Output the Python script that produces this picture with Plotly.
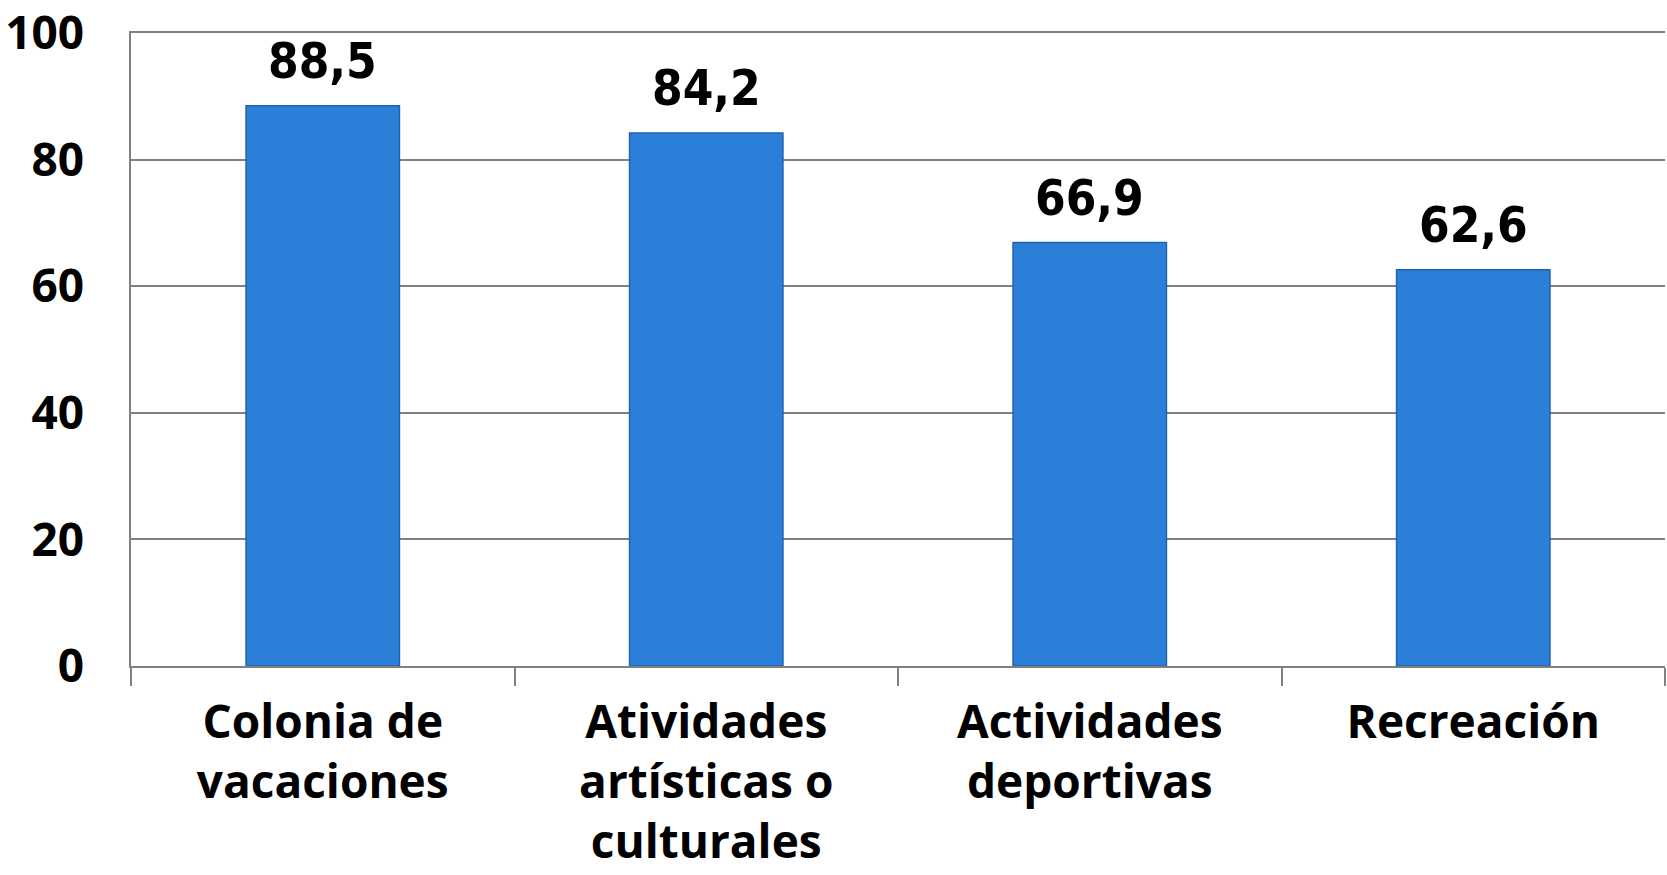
import plotly.graph_objects as go

categories = ["Colonia de<br>vacaciones", "Atividades<br>artísticas o<br>culturales",
              "Actividades<br>deportivas", "Recreación"]
values = [88.5, 84.2, 66.9, 62.6]
y_ticks = [0, 20, 40, 60, 80, 100]

fig = go.Figure()

fig.add_trace(
    go.Bar(
        x=categories,
        y=values,
        marker=dict(color="#2b7fd8", line=dict(color="#1f63b0", width=1.5)),
        width=0.4,
        hoverinfo="x+y",
    )
)

# value labels above each bar, with decimal comma
for cat, val in zip(categories, values):
    fig.add_annotation(
        x=cat,
        y=val,
        text=f"{val:.1f}".replace(".", ","),
        showarrow=False,
        yanchor="bottom",
        yshift=14,
        font=dict(family="Liberation Sans Narrow, DejaVu Sans Condensed, Open Sans, sans-serif",
                  size=49, color="black", weight="bold"),
    )

fig.update_layout(
    width=1667,
    height=875,
    margin=dict(l=131, r=2, t=33, b=209),
    plot_bgcolor="white",
    paper_bgcolor="white",
    separators=",.",
    showlegend=False,
    font=dict(family="Open Sans, sans-serif", color="black"),
    xaxis=dict(
        automargin=False,
        tickson="boundaries",
        ticks="outside",
        ticklen=18,
        tickwidth=1.5,
        tickcolor="#808080",
        showline=True,
        mirror=True,
        linecolor="#808080",
        linewidth=1.5,
        ticklabelstandoff=15,
        ticklabeloverflow="allow",
        tickfont=dict(family="Open Sans, sans-serif", size=46, color="black", weight="bold"),
    ),
    yaxis=dict(
        automargin=False,
        range=[0, 100],
        tickvals=y_ticks,
        showgrid=True,
        gridcolor="#808080",
        gridwidth=1.5,
        showline=True,
        linecolor="#808080",
        linewidth=1.5,
        zeroline=False,
        ticks="",
        ticklabelstandoff=36,
        ticklabeloverflow="allow",
        tickfont=dict(family="Open Sans, sans-serif", size=46, color="black", weight="bold"),
    ),
)

# drop the default 8px page margin so the figure fills the window exactly
fig.write_html("out.html", config={"displayModeBar": False},
               post_script="document.body.style.margin='0';")
